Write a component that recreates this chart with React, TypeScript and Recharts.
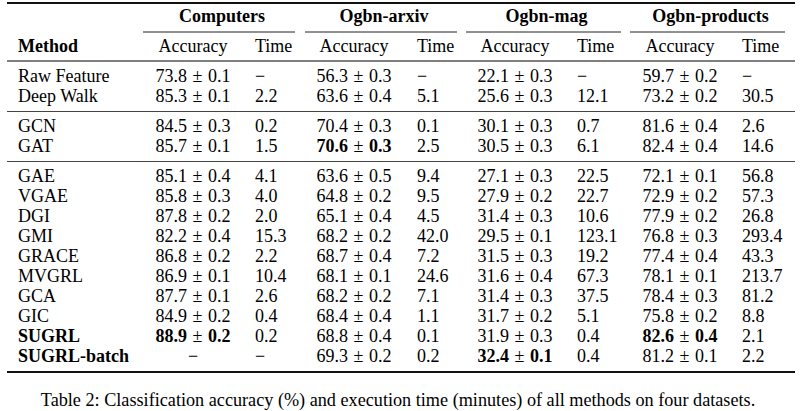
import React from 'react';
import { ScatterChart, Scatter, XAxis, YAxis, ReferenceLine } from 'recharts';

// ---------- data ----------
const methods = ['Raw Feature', 'Deep Walk', 'GCN', 'GAT', 'GAE', 'VGAE', 'DGI', 'GMI', 'GRACE', 'MVGRL', 'GCA', 'GIC', 'SUGRL', 'SUGRL-batch'];
const methodGroups = [0, 0, 1, 1, 2, 2, 2, 2, 2, 2, 2, 2, 2, 2];
const oursMethods = ['SUGRL', 'SUGRL-batch'];
const datasets = ['Computers', 'Ogbn-arxiv', 'Ogbn-mag', 'Ogbn-products'];
const subHeaders = ['Accuracy', 'Time'];
const methodHeader = 'Method';
const caption = 'Table 2: Classification accuracy (%) and execution time (minutes) of all methods on four datasets.';

const computersAcc = [73.8, 85.3, 84.5, 85.7, 85.1, 85.8, 87.8, 82.2, 86.8, 86.9, 87.7, 84.9, 88.9, null];
const computersStd = [0.1, 0.1, 0.3, 0.1, 0.4, 0.3, 0.2, 0.4, 0.2, 0.1, 0.1, 0.2, 0.2, null];
const computersTime = [null, 2.2, 0.2, 1.5, 4.1, 4.0, 2.0, 15.3, 2.2, 10.4, 2.6, 0.4, 0.2, null];

const arxivAcc = [56.3, 63.6, 70.4, 70.6, 63.6, 64.8, 65.1, 68.2, 68.7, 68.1, 68.2, 68.4, 68.8, 69.3];
const arxivStd = [0.3, 0.4, 0.3, 0.3, 0.5, 0.2, 0.4, 0.2, 0.4, 0.1, 0.2, 0.4, 0.4, 0.2];
const arxivTime = [null, 5.1, 0.1, 2.5, 9.4, 9.5, 4.5, 42.0, 7.2, 24.6, 7.1, 1.1, 0.1, 0.2];

const magAcc = [22.1, 25.6, 30.1, 30.5, 27.1, 27.9, 31.4, 29.5, 31.5, 31.6, 31.4, 31.7, 31.9, 32.4];
const magStd = [0.3, 0.3, 0.3, 0.3, 0.3, 0.2, 0.3, 0.1, 0.3, 0.4, 0.3, 0.2, 0.3, 0.1];
const magTime = [null, 12.1, 0.7, 6.1, 22.5, 22.7, 10.6, 123.1, 19.2, 67.3, 37.5, 5.1, 0.4, 0.4];

const productsAcc = [59.7, 73.2, 81.6, 82.4, 72.1, 72.9, 77.9, 76.8, 77.4, 78.1, 78.4, 75.8, 82.6, 81.2];
const productsStd = [0.2, 0.2, 0.4, 0.4, 0.1, 0.2, 0.2, 0.3, 0.4, 0.1, 0.3, 0.2, 0.4, 0.1];
const productsTime = [null, 30.5, 2.6, 14.6, 56.8, 57.3, 26.8, 293.4, 43.3, 213.7, 81.2, 8.8, 2.1, 2.2];

const accBy = [computersAcc, arxivAcc, magAcc, productsAcc];
const stdBy = [computersStd, arxivStd, magStd, productsStd];
const timeBy = [computersTime, arxivTime, magTime, productsTime];

// ---------- layout (not data) ----------
const W = 800;
const H = 411;
const FONT = "'Liberation Serif', 'Times New Roman', Times, serif";
const FS = 18;
const METHOD_X = 18;
const ACC_X = [193, 354, 515, 680];
const TIME_X = [255, 417, 577, 742];
const GROUP_SPAN = [[143, 295], [305, 457], [466, 621], [630, 785]];
const RULE_X = [7, 795];
const TOP_RULE_Y = 3;
const HEADER_Y = 22;
const CMID_Y = 32;
const SUB_Y = 52;
const MID_RULE_Y = 61;
const ROW0_Y = 82;
const ROW_STEP = 20;
const GROUP_GAP = 10;
const BOTTOM_RULE_Y = 372;
const CAPTION_Y = 406;
const CAPTION_X = 398;

const rowY = (i: number) => ROW0_Y + ROW_STEP * i + GROUP_GAP * methodGroups[i];
const DASH = '\u2212';

type Cell = {
  x: number;
  y: number;
  kind: 'text' | 'acc';
  text?: string;
  mean?: string;
  std?: string;
  bold?: boolean;
  anchor: 'start' | 'middle' | 'end';
  size?: number;
};

const cells: Cell[] = [];
// header
cells.push({ x: METHOD_X, y: SUB_Y, kind: 'text', text: methodHeader, bold: true, anchor: 'start' });
datasets.forEach((d, k) => {
  const [a, b] = GROUP_SPAN[k];
  cells.push({ x: (a + b) / 2 + 3, y: HEADER_Y, kind: 'text', text: d, bold: true, anchor: 'middle' });
  cells.push({ x: ACC_X[k], y: SUB_Y, kind: 'text', text: subHeaders[0], anchor: 'middle' });
  cells.push({ x: TIME_X[k], y: SUB_Y, kind: 'text', text: subHeaders[1], anchor: 'start' });
});
// body
methods.forEach((m, i) => {
  const y = rowY(i);
  cells.push({ x: METHOD_X, y, kind: 'text', text: m, bold: oursMethods.includes(m), anchor: 'start' });
  datasets.forEach((_, k) => {
    const acc = accBy[k][i];
    const best = Math.max(...(accBy[k].filter((v) => v != null) as number[]));
    if (acc == null) {
      cells.push({ x: ACC_X[k], y, kind: 'text', text: DASH, anchor: 'middle' });
    } else {
      cells.push({
        x: ACC_X[k], y, kind: 'acc',
        mean: acc.toFixed(1), std: (stdBy[k][i] as number).toFixed(1),
        bold: acc === best, anchor: 'middle',
      });
    }
    const t = timeBy[k][i];
    cells.push({ x: TIME_X[k], y, kind: 'text', text: t == null ? DASH : t.toFixed(1), anchor: 'start' });
  });
});
// caption
cells.push({ x: CAPTION_X, y: CAPTION_Y, kind: 'text', text: caption, anchor: 'middle', size: 18.2 });

const renderCell = (props: any) => {
  const p: Cell = props.payload;
  const { cx, cy } = props;
  if (p.kind === 'acc') {
    const w = p.bold ? 'bold' : 'normal';
    return (
      <text x={cx} y={cy} textAnchor={p.anchor} fontFamily={FONT} fontSize={FS} fill="#000">
        <tspan fontWeight={w}>{p.mean}</tspan>
        <tspan fontWeight="normal" dx={5.5}>{'\u00B1'}</tspan>
        <tspan fontWeight={w} dx={5.5}>{p.std}</tspan>
      </text>
    );
  }
  return (
    <text x={cx} y={cy} textAnchor={p.anchor} fontFamily={FONT} fontSize={p.size ?? FS} fontWeight={p.bold ? 'bold' : 'normal'} fill="#000">
      {p.text}
    </text>
  );
};

const hLine = (y: number, x0: number, x1: number, w: number, color: string, key: string) => (
  <ReferenceLine
    key={key}
    segment={[{ x: x0, y }, { x: x1, y }]}
    stroke={color}
    strokeWidth={w}
    ifOverflow="visible"
  />
);

export default function App() {
  return (
    <div style={{ position: 'absolute', left: 0, top: 0, width: W, height: H, background: '#fff' }}>
      <ScatterChart width={W} height={H} margin={{ top: 0, right: 0, bottom: 0, left: 0 }}>
        <XAxis type="number" dataKey="x" domain={[0, W]} hide allowDataOverflow />
        <YAxis type="number" dataKey="y" domain={[0, H]} reversed hide allowDataOverflow />
        {hLine(TOP_RULE_Y, RULE_X[0], RULE_X[1], 2, '#111', 'top')}
        {GROUP_SPAN.map(([a, b], k) => hLine(CMID_Y, a, b, 1, '#222', 'cm' + k))}
        {hLine(MID_RULE_Y, RULE_X[0], RULE_X[1], 1.5, '#555', 'mid')}
        {hLine(rowY(2) - 20.5, RULE_X[0], RULE_X[1], 1.2, '#444', 'g1')}
        {hLine(rowY(4) - 20.5, RULE_X[0], RULE_X[1], 1.2, '#444', 'g2')}
        {hLine(BOTTOM_RULE_Y, RULE_X[0], RULE_X[1], 2, '#111', 'bottom')}
        <Scatter data={cells} shape={renderCell} isAnimationActive={false} />
      </ScatterChart>
    </div>
  );
}
